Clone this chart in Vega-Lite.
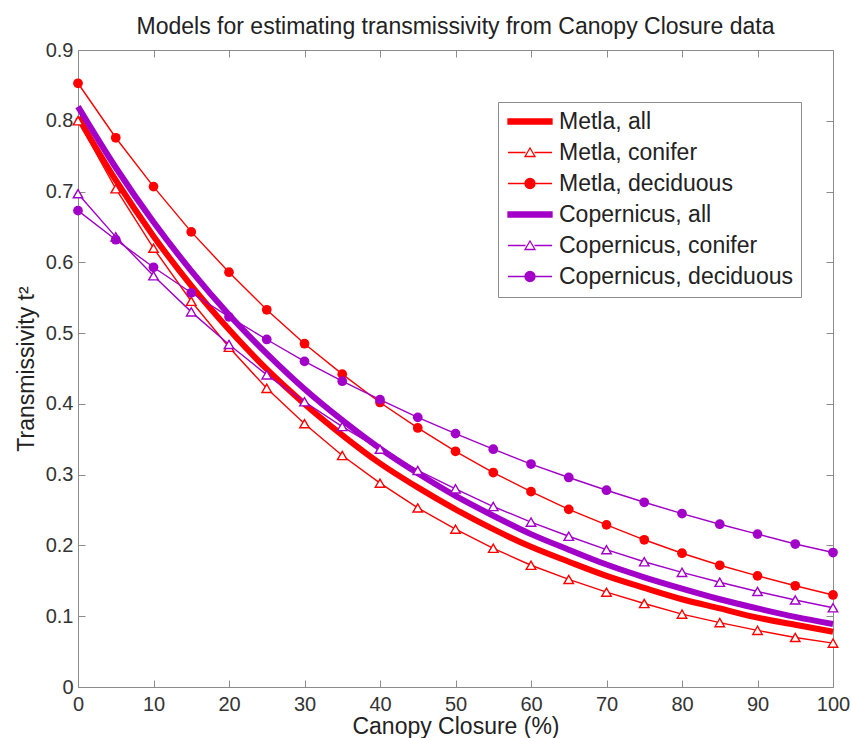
{
  "$schema": "https://vega.github.io/schema/vega-lite/v6.json",
  "width": 755,
  "height": 637,
  "autosize": {"type": "none"},
  "padding": {"left": 78, "top": 50, "right": 18, "bottom": 51},
  "background": "white",
  "title": {"text": "Models for estimating transmissivity from Canopy Closure data", "fontSize": 23, "font": "Liberation Sans", "fontWeight": "normal", "color": "#222222", "offset": 1, "anchor": "middle"},
  "config": {
    "view": {"stroke": null},
    "axis": {"grid": false, "domainColor": "#8c8c8c", "tickColor": "#8c8c8c", "labelFont": "Liberation Sans", "labelFontSize": 20, "labelColor": "#333333", "titleFont": "Liberation Sans", "titleFontSize": 23, "titleFontWeight": "normal", "titleColor": "#222222", "tickSize": -7, "labelFlush": false, "labelOverlap": false}
  },
  "data": {"values": [
    {"cc":0,"t":0.805,"s":"Metla, all"},{"cc":5,"t":0.716,"s":"Metla, all"},{"cc":10,"t":0.637,"s":"Metla, all"},{"cc":15,"t":0.567,"s":"Metla, all"},{"cc":20,"t":0.505,"s":"Metla, all"},{"cc":25,"t":0.449,"s":"Metla, all"},{"cc":30,"t":0.400,"s":"Metla, all"},{"cc":35,"t":0.356,"s":"Metla, all"},{"cc":40,"t":0.316,"s":"Metla, all"},{"cc":45,"t":0.282,"s":"Metla, all"},{"cc":50,"t":0.251,"s":"Metla, all"},{"cc":55,"t":0.223,"s":"Metla, all"},{"cc":60,"t":0.198,"s":"Metla, all"},{"cc":65,"t":0.177,"s":"Metla, all"},{"cc":70,"t":0.157,"s":"Metla, all"},{"cc":75,"t":0.140,"s":"Metla, all"},{"cc":80,"t":0.124,"s":"Metla, all"},{"cc":85,"t":0.111,"s":"Metla, all"},{"cc":90,"t":0.098,"s":"Metla, all"},{"cc":95,"t":0.088,"s":"Metla, all"},{"cc":100,"t":0.078,"s":"Metla, all"},
    {"cc":0,"t":0.800,"s":"Metla, conifer"},{"cc":5,"t":0.704,"s":"Metla, conifer"},{"cc":10,"t":0.620,"s":"Metla, conifer"},{"cc":15,"t":0.545,"s":"Metla, conifer"},{"cc":20,"t":0.480,"s":"Metla, conifer"},{"cc":25,"t":0.422,"s":"Metla, conifer"},{"cc":30,"t":0.372,"s":"Metla, conifer"},{"cc":35,"t":0.327,"s":"Metla, conifer"},{"cc":40,"t":0.288,"s":"Metla, conifer"},{"cc":45,"t":0.253,"s":"Metla, conifer"},{"cc":50,"t":0.223,"s":"Metla, conifer"},{"cc":55,"t":0.196,"s":"Metla, conifer"},{"cc":60,"t":0.172,"s":"Metla, conifer"},{"cc":65,"t":0.152,"s":"Metla, conifer"},{"cc":70,"t":0.134,"s":"Metla, conifer"},{"cc":75,"t":0.118,"s":"Metla, conifer"},{"cc":80,"t":0.103,"s":"Metla, conifer"},{"cc":85,"t":0.091,"s":"Metla, conifer"},{"cc":90,"t":0.080,"s":"Metla, conifer"},{"cc":95,"t":0.070,"s":"Metla, conifer"},{"cc":100,"t":0.062,"s":"Metla, conifer"},
    {"cc":0,"t":0.853,"s":"Metla, deciduous"},{"cc":5,"t":0.776,"s":"Metla, deciduous"},{"cc":10,"t":0.707,"s":"Metla, deciduous"},{"cc":15,"t":0.643,"s":"Metla, deciduous"},{"cc":20,"t":0.586,"s":"Metla, deciduous"},{"cc":25,"t":0.533,"s":"Metla, deciduous"},{"cc":30,"t":0.485,"s":"Metla, deciduous"},{"cc":35,"t":0.442,"s":"Metla, deciduous"},{"cc":40,"t":0.402,"s":"Metla, deciduous"},{"cc":45,"t":0.366,"s":"Metla, deciduous"},{"cc":50,"t":0.333,"s":"Metla, deciduous"},{"cc":55,"t":0.303,"s":"Metla, deciduous"},{"cc":60,"t":0.276,"s":"Metla, deciduous"},{"cc":65,"t":0.251,"s":"Metla, deciduous"},{"cc":70,"t":0.229,"s":"Metla, deciduous"},{"cc":75,"t":0.208,"s":"Metla, deciduous"},{"cc":80,"t":0.189,"s":"Metla, deciduous"},{"cc":85,"t":0.172,"s":"Metla, deciduous"},{"cc":90,"t":0.157,"s":"Metla, deciduous"},{"cc":95,"t":0.143,"s":"Metla, deciduous"},{"cc":100,"t":0.130,"s":"Metla, deciduous"},
    {"cc":0,"t":0.820,"s":"Copernicus, all"},{"cc":5,"t":0.734,"s":"Copernicus, all"},{"cc":10,"t":0.657,"s":"Copernicus, all"},{"cc":15,"t":0.588,"s":"Copernicus, all"},{"cc":20,"t":0.526,"s":"Copernicus, all"},{"cc":25,"t":0.471,"s":"Copernicus, all"},{"cc":30,"t":0.421,"s":"Copernicus, all"},{"cc":35,"t":0.377,"s":"Copernicus, all"},{"cc":40,"t":0.337,"s":"Copernicus, all"},{"cc":45,"t":0.302,"s":"Copernicus, all"},{"cc":50,"t":0.270,"s":"Copernicus, all"},{"cc":55,"t":0.242,"s":"Copernicus, all"},{"cc":60,"t":0.216,"s":"Copernicus, all"},{"cc":65,"t":0.194,"s":"Copernicus, all"},{"cc":70,"t":0.173,"s":"Copernicus, all"},{"cc":75,"t":0.155,"s":"Copernicus, all"},{"cc":80,"t":0.139,"s":"Copernicus, all"},{"cc":85,"t":0.124,"s":"Copernicus, all"},{"cc":90,"t":0.111,"s":"Copernicus, all"},{"cc":95,"t":0.099,"s":"Copernicus, all"},{"cc":100,"t":0.089,"s":"Copernicus, all"},
    {"cc":0,"t":0.697,"s":"Copernicus, conifer"},{"cc":5,"t":0.636,"s":"Copernicus, conifer"},{"cc":10,"t":0.581,"s":"Copernicus, conifer"},{"cc":15,"t":0.530,"s":"Copernicus, conifer"},{"cc":20,"t":0.484,"s":"Copernicus, conifer"},{"cc":25,"t":0.441,"s":"Copernicus, conifer"},{"cc":30,"t":0.403,"s":"Copernicus, conifer"},{"cc":35,"t":0.368,"s":"Copernicus, conifer"},{"cc":40,"t":0.336,"s":"Copernicus, conifer"},{"cc":45,"t":0.306,"s":"Copernicus, conifer"},{"cc":50,"t":0.280,"s":"Copernicus, conifer"},{"cc":55,"t":0.255,"s":"Copernicus, conifer"},{"cc":60,"t":0.233,"s":"Copernicus, conifer"},{"cc":65,"t":0.213,"s":"Copernicus, conifer"},{"cc":70,"t":0.194,"s":"Copernicus, conifer"},{"cc":75,"t":0.177,"s":"Copernicus, conifer"},{"cc":80,"t":0.162,"s":"Copernicus, conifer"},{"cc":85,"t":0.148,"s":"Copernicus, conifer"},{"cc":90,"t":0.135,"s":"Copernicus, conifer"},{"cc":95,"t":0.123,"s":"Copernicus, conifer"},{"cc":100,"t":0.112,"s":"Copernicus, conifer"},
    {"cc":0,"t":0.673,"s":"Copernicus, deciduous"},{"cc":5,"t":0.632,"s":"Copernicus, deciduous"},{"cc":10,"t":0.593,"s":"Copernicus, deciduous"},{"cc":15,"t":0.557,"s":"Copernicus, deciduous"},{"cc":20,"t":0.523,"s":"Copernicus, deciduous"},{"cc":25,"t":0.491,"s":"Copernicus, deciduous"},{"cc":30,"t":0.460,"s":"Copernicus, deciduous"},{"cc":35,"t":0.432,"s":"Copernicus, deciduous"},{"cc":40,"t":0.406,"s":"Copernicus, deciduous"},{"cc":45,"t":0.381,"s":"Copernicus, deciduous"},{"cc":50,"t":0.358,"s":"Copernicus, deciduous"},{"cc":55,"t":0.336,"s":"Copernicus, deciduous"},{"cc":60,"t":0.315,"s":"Copernicus, deciduous"},{"cc":65,"t":0.296,"s":"Copernicus, deciduous"},{"cc":70,"t":0.278,"s":"Copernicus, deciduous"},{"cc":75,"t":0.261,"s":"Copernicus, deciduous"},{"cc":80,"t":0.245,"s":"Copernicus, deciduous"},{"cc":85,"t":0.230,"s":"Copernicus, deciduous"},{"cc":90,"t":0.216,"s":"Copernicus, deciduous"},{"cc":95,"t":0.202,"s":"Copernicus, deciduous"},{"cc":100,"t":0.190,"s":"Copernicus, deciduous"}
  ]},
  "resolve": {"axis": {"x": "independent", "y": "independent"}},
  "layer": [
    {
      "transform": [{"filter": {"field": "s", "oneOf": ["Metla, all", "Copernicus, all"]}}],
      "mark": {"type": "line", "strokeWidth": 6, "interpolate": "monotone", "strokeCap": "butt"},
      "encoding": {
        "x": {"field": "cc", "type": "quantitative", "scale": {"domain": [0, 100]}, "axis": {"orient": "bottom", "values": [0,10,20,30,40,50,60,70,80,90,100], "title": "Canopy Closure (%)", "labelPadding": 14, "titlePadding": 1}},
        "y": {"field": "t", "type": "quantitative", "scale": {"domain": [0, 0.9]}, "axis": {"orient": "left", "values": [0,0.1,0.2,0.3,0.4,0.5,0.6,0.7,0.8,0.9], "format": ".1~f", "title": "Transmissivity t²", "labelPadding": 12, "titlePadding": 7}},
        "color": {"field": "s", "type": "nominal", "scale": {"domain": ["Copernicus, all", "Copernicus, conifer", "Copernicus, deciduous", "Metla, all", "Metla, conifer", "Metla, deciduous"], "range": ["#a200c8", "#a200c8", "#a200c8", "#ff0000", "#ff0000", "#ff0000"]}, "legend": null}
      }
    },
    {
      "transform": [{"filter": {"field": "s", "oneOf": ["Metla, conifer", "Metla, deciduous", "Copernicus, conifer", "Copernicus, deciduous"]}}],
      "mark": {"type": "line", "strokeWidth": 1.4},
      "encoding": {
        "x": {"field": "cc", "type": "quantitative", "axis": null},
        "y": {"field": "t", "type": "quantitative", "axis": null},
        "color": {"field": "s", "type": "nominal", "legend": null}
      }
    },
    {
      "transform": [{"filter": {"field": "s", "oneOf": ["Metla, conifer", "Copernicus, conifer"]}}],
      "mark": {"type": "point", "shape": "triangle-up", "filled": false, "fill": "white", "size": 90, "strokeWidth": 1.4, "opacity": 1},
      "encoding": {
        "x": {"field": "cc", "type": "quantitative", "axis": {"orient": "top", "values": [0,10,20,30,40,50,60,70,80,90,100], "labels": false, "title": null}},
        "y": {"field": "t", "type": "quantitative", "axis": {"orient": "right", "values": [0,0.1,0.2,0.3,0.4,0.5,0.6,0.7,0.8,0.9], "labels": false, "title": null}},
        "color": {"field": "s", "type": "nominal", "legend": null}
      }
    },
    {
      "transform": [{"filter": {"field": "s", "oneOf": ["Metla, deciduous", "Copernicus, deciduous"]}}],
      "mark": {"type": "point", "shape": "circle", "filled": true, "size": 95, "opacity": 1},
      "encoding": {
        "x": {"field": "cc", "type": "quantitative", "axis": null},
        "y": {"field": "t", "type": "quantitative", "axis": null},
        "color": {"field": "s", "type": "nominal", "legend": null}
      }
    },
    {
      "transform": [{"filter": "datum.cc < 0"}],
      "mark": {"type": "point", "filled": true, "opacity": 1, "size": 400, "strokeWidth": 1.3},
      "encoding": {
        "x": {"field": "cc", "type": "quantitative", "axis": null},
        "y": {"field": "t", "type": "quantitative", "axis": null},
        "stroke": {"field": "s", "type": "nominal", "scale": {"domain": ["Metla, all", "Metla, conifer", "Metla, deciduous", "Copernicus, all", "Copernicus, conifer", "Copernicus, deciduous"], "range": ["#ff0000", "#ff0000", "#ff0000", "#a200c8", "#a200c8", "#a200c8"]},
          "legend": {"title": null, "orient": "none", "legendX": 420, "legendY": 52, "padding": 8, "strokeColor": "#8c8c8c", "fillColor": "white", "labelFont": "Liberation Sans", "labelFontSize": 23, "labelColor": "#222222", "labelLimit": 400, "symbolSize": 400, "symbolStrokeWidth": 1.3, "labelOffset": 30, "rowPadding": 7, "symbolOffset": 0}},
        "fill": {"field": "s", "type": "nominal", "scale": {"domain": ["Metla, all", "Metla, conifer", "Metla, deciduous", "Copernicus, all", "Copernicus, conifer", "Copernicus, deciduous"], "range": ["#ff0000", "white", "#ff0000", "#a200c8", "white", "#a200c8"]}},
        "shape": {"field": "s", "type": "nominal", "scale": {"domain": ["Metla, all", "Metla, conifer", "Metla, deciduous", "Copernicus, all", "Copernicus, conifer", "Copernicus, deciduous"], "range": [
          "M-0.95,-0.25L3.45,-0.25L3.45,0.25L-0.95,0.25Z",
          "M-0.95,0L0.8,0M1.7,0L3.45,0M1.25,-0.45L1.75,0.4L0.75,0.4Z",
          "M-0.95,0L3.45,0M1.75,0C1.75,0.276 1.526,0.5 1.25,0.5C0.974,0.5 0.75,0.276 0.75,0C0.75,-0.276 0.974,-0.5 1.25,-0.5C1.526,-0.5 1.75,-0.276 1.75,0Z",
          "M-0.95,-0.25L3.45,-0.25L3.45,0.25L-0.95,0.25Z",
          "M-0.95,0L0.8,0M1.7,0L3.45,0M1.25,-0.45L1.75,0.4L0.75,0.4Z",
          "M-0.95,0L3.45,0M1.75,0C1.75,0.276 1.526,0.5 1.25,0.5C0.974,0.5 0.75,0.276 0.75,0C0.75,-0.276 0.974,-0.5 1.25,-0.5C1.526,-0.5 1.75,-0.276 1.75,0Z"
        ]}}
      }
    }
  ]
}
